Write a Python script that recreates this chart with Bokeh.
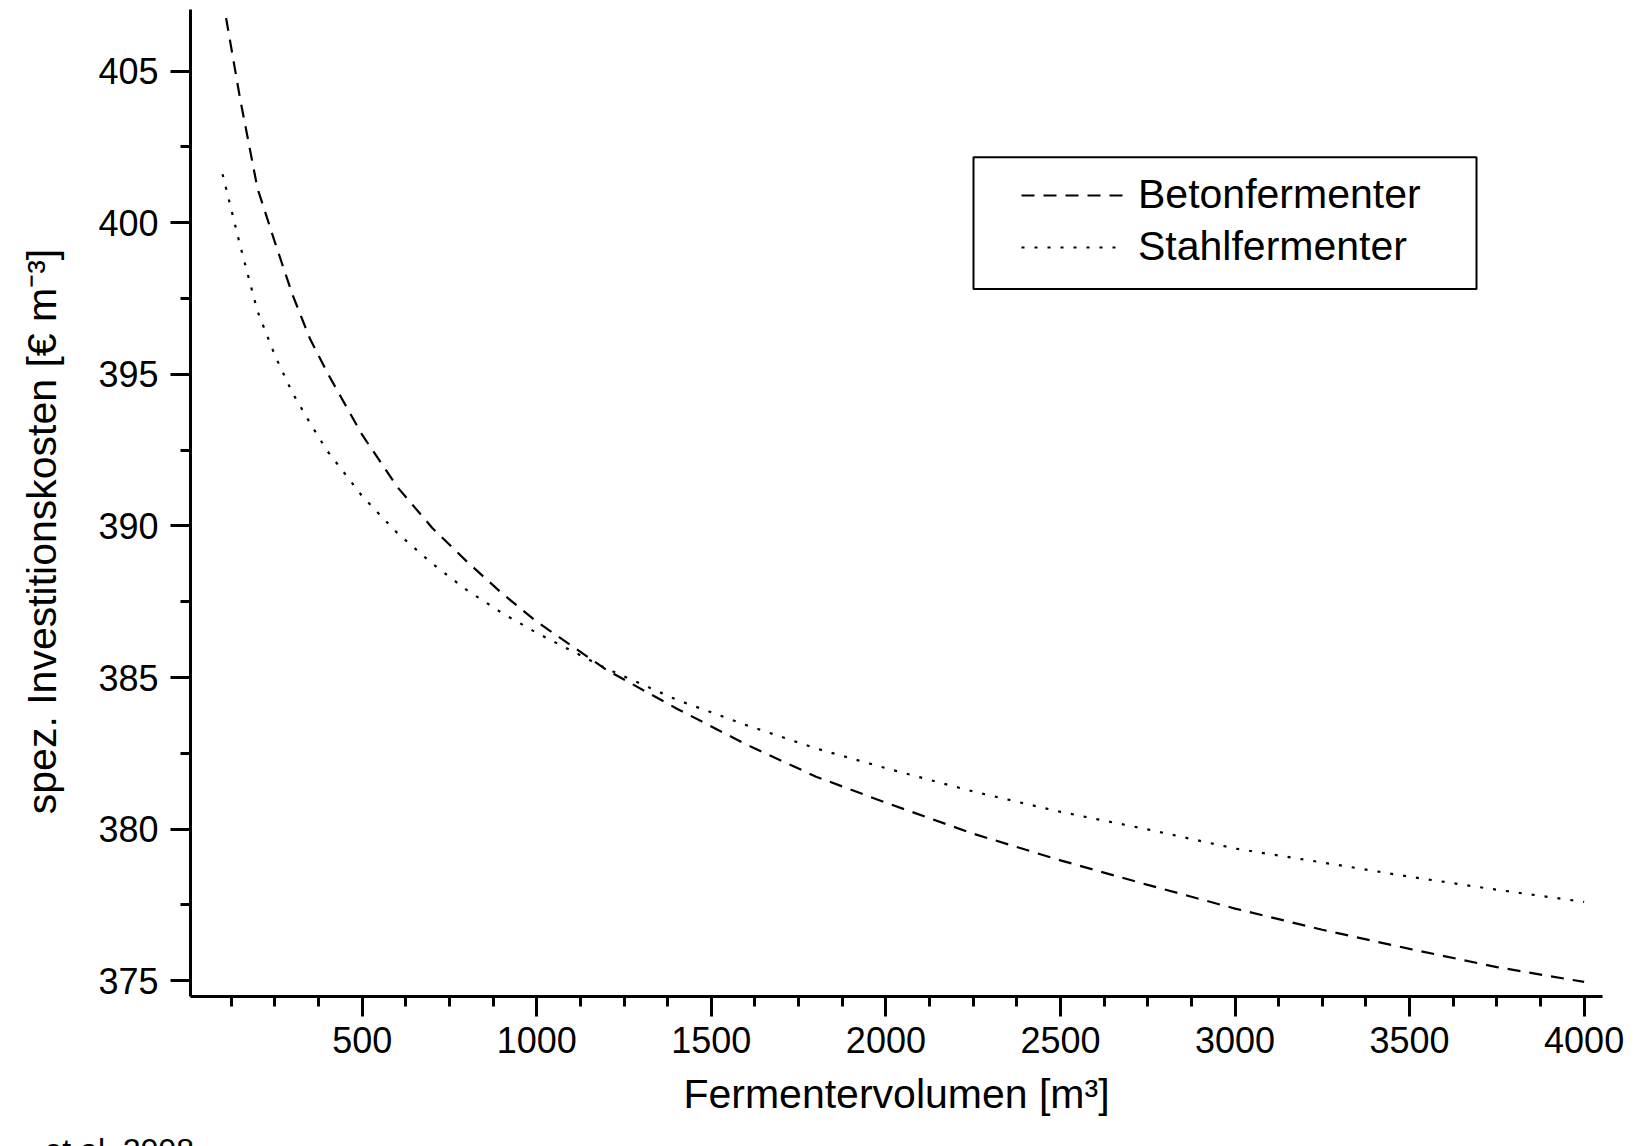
from bokeh.plotting import figure
from bokeh.models import FixedTicker, Legend, LegendItem, BoxAnnotation, Range1d, Title
from bokeh.embed import file_html
from bokeh.resources import INLINE

# ---- data ----
beton_x = [110, 150, 200, 250, 300, 350, 400, 500, 600, 700, 800, 900, 1000, 1200, 1400,
           1600, 1800, 2000, 2250, 2500, 2750, 3000, 3250, 3500, 3750, 4000]
beton_y = [406.75, 404.1, 401.13, 399.35, 397.63, 396.18, 395.05, 393.0, 391.29, 389.94, 388.82,
           387.78, 386.84, 385.25, 383.98, 382.79, 381.73, 380.87, 379.85, 378.97, 378.16, 377.38,
           376.68, 376.05, 375.45, 374.96]
stahl_x = [100, 150, 200, 250, 300, 350, 400, 500, 600, 700, 800, 900, 1000, 1200, 1400,
           1600, 1800, 2000, 2250, 2500, 2750, 3000, 3250, 3500, 3750, 4000]
stahl_y = [401.6, 399.26, 397.08, 395.62, 394.39, 393.40, 392.47, 390.98, 389.77, 388.76, 387.88,
           387.13, 386.47, 385.29, 384.27, 383.43, 382.66, 382.01, 381.24, 380.57, 379.99, 379.36,
           378.90, 378.43, 378.0, 377.6]

x_ticks = [500, 1000, 1500, 2000, 2500, 3000, 3500, 4000]
x_minor = [v for v in range(125, 4001, 125) if v % 500 != 0]
y_ticks = [375, 380, 385, 390, 395, 400, 405]
y_minor = [377.5, 382.5, 387.5, 392.5, 397.5, 402.5]

series_names = ["Betonfermenter", "Stahlfermenter"]
x_title = "Fermentervolumen [m\u00b3]"
y_title = "spez. Investitionskosten [\u20ac m\u207b\u00b3]"
footer = "et al. 2008"

# ---- layout ----
X0, X1 = 8.1, 4052.6
Y0, Y1 = 374.48, 407.03
FL, FT, FW, FH = 190, 9, 1412, 987
FONT = "Liberation Sans"


def dx(px):
    return X0 + (px - FL) / FW * (X1 - X0)


def dy(py):
    return Y1 - (py - FT) / FH * (Y1 - Y0)


p = figure(frame_width=FW, frame_height=FH,
           x_range=Range1d(X0, X1), y_range=Range1d(Y0, Y1),
           output_backend="svg", toolbar_location=None,
           min_border_left=FL, min_border_right=37, min_border_top=FT, min_border_bottom=150)
p.outline_line_color = None
p.xgrid.visible = False
p.ygrid.visible = False
p.background_fill_color = "white"
p.border_fill_color = "white"

r1 = p.line(beton_x, beton_y, line_color="black", line_width=2.2, line_dash="13 9")
r2 = p.line(stahl_x, stahl_y, line_color="black", line_width=2.2, line_dash="3 10")

for ax, tk, mn, so in ((p.xaxis[0], x_ticks, x_minor, 10), (p.yaxis[0], y_ticks, y_minor, 12)):
    ax.ticker = FixedTicker(ticks=tk, minor_ticks=mn)
    ax.axis_line_width = 3
    ax.axis_line_color = "black"
    ax.major_tick_line_width = 3
    ax.minor_tick_line_width = 3
    ax.major_tick_line_color = "black"
    ax.minor_tick_line_color = "black"
    ax.major_tick_out = 20
    ax.major_tick_in = 0
    ax.minor_tick_out = 10
    ax.minor_tick_in = 0
    ax.major_label_text_font = FONT
    ax.major_label_text_font_size = "36px"
    ax.major_label_text_color = "black"
    ax.major_label_standoff = so
    ax.axis_label_text_font = FONT
    ax.axis_label_text_font_size = "41px"
    ax.axis_label_text_font_style = "normal"
    ax.axis_label_text_color = "black"

p.xaxis[0].axis_label = x_title
p.xaxis[0].axis_label_standoff = 15
# trailing no-break spaces shift the visible title slightly downward, as in the reference
p.yaxis[0].axis_label = y_title + "\u00a0" * 5
p.yaxis[0].axis_label_standoff = 30

# legend frame
p.add_layout(BoxAnnotation(left=dx(973), right=dx(1476), top=dy(156.8), bottom=dy(288.5),
                           fill_color=None, fill_alpha=0, line_color="black",
                           line_alpha=1.0, line_width=2))

legend = Legend(items=[LegendItem(label=series_names[0], renderers=[r1]),
                       LegendItem(label=series_names[1], renderers=[r2])],
                location=(831, 726),
                border_line_color=None, background_fill_alpha=0,
                label_text_font=FONT, label_text_font_size="41px", label_text_color="black",
                glyph_width=102, glyph_height=40, label_height=40, label_standoff=15,
                spacing=5, padding=23, margin=0)
p.add_layout(legend)

# source note below the axis (cut off at the page edge as in the reference)
p.add_layout(Title(text=footer, align="left", offset=-146, text_font=FONT,
                   text_font_size="32px", text_font_style="normal", text_color="black",
                   standoff=20), "below")

open("out.html", "w").write(file_html(p, INLINE))
